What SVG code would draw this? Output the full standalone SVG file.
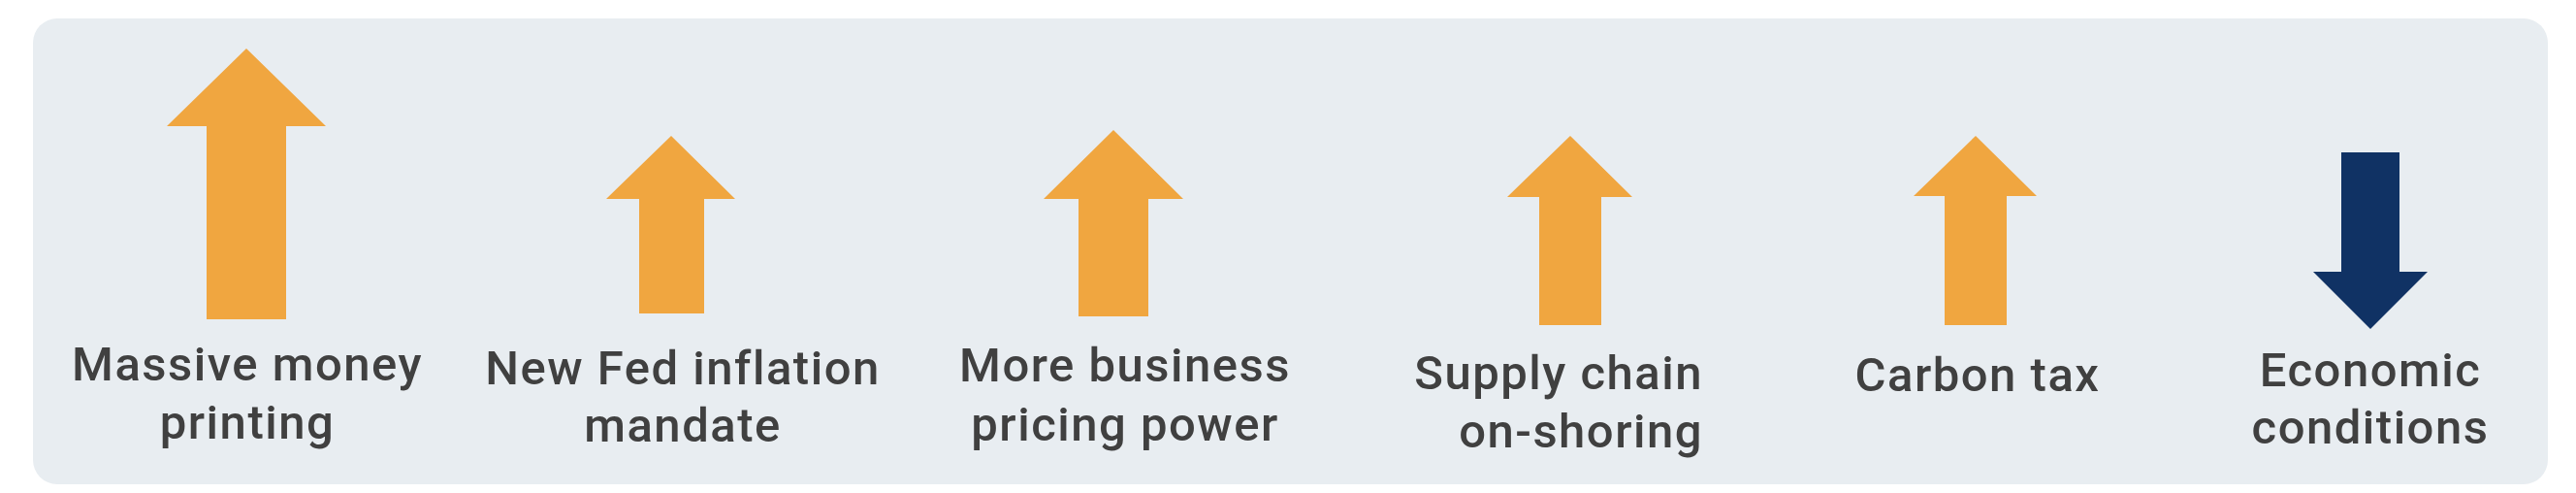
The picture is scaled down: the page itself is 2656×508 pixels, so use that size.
<svg xmlns="http://www.w3.org/2000/svg" width="2656" height="508" viewBox="0 0 2656 508">
<style>
.bg{fill:#E8EDF1}
.up{fill:#F0A640}
.down{fill:#103264}
.lbl{font-family:Roboto,"Liberation Sans",Arial,sans-serif;font-weight:500;font-size:49px;fill:#404040;letter-spacing:1.5px;text-anchor:middle}
</style>
<rect x="0" y="0" width="2656" height="508" fill="#FFFFFF"/>
<rect class="bg" x="34" y="19" width="2593" height="480" rx="25" ry="25"/>
<g id="node-money">
<polygon class="up" points="254,50 336,130 295,130 295,329 213,329 213,130 172,130"/>
<text class="lbl" x="255" y="392">Massive money</text>
<text class="lbl" x="255" y="452">printing</text>
</g>
<g id="node-fed">
<polygon class="up" points="692,140 758,205 726,205 726,323 659,323 659,205 625,205"/>
<text class="lbl" x="704" y="396">New Fed inflation</text>
<text class="lbl" x="704" y="455">mandate</text>
</g>
<g id="node-pricing">
<polygon class="up" points="1148,134 1220,205 1184,205 1184,326 1112,326 1112,205 1076,205"/>
<text class="lbl" x="1160" y="393">More business</text>
<text class="lbl" x="1160" y="454">pricing power</text>
</g>
<g id="node-supply">
<polygon class="up" points="1619,140 1683,203 1651,203 1651,335 1587,335 1587,203 1554,203"/>
<text class="lbl" x="1756" y="401" style="text-anchor:end">Supply chain</text>
<text class="lbl" x="1756" y="461" style="text-anchor:end">on-shoring</text>
</g>
<g id="node-carbon">
<polygon class="up" points="2037,140 2100,202 2069,202 2069,335 2005,335 2005,202 1973,202"/>
<text class="lbl" x="2039" y="403">Carbon tax</text>
</g>
<g id="node-economic">
<polygon class="down" points="2414,157 2474,157 2474,280 2503,280 2444,339 2385,280 2414,280"/>
<text class="lbl" x="2444" y="398">Economic</text>
<text class="lbl" x="2444" y="457">conditions</text>
</g>
<g id="connectors"></g>
</svg>
